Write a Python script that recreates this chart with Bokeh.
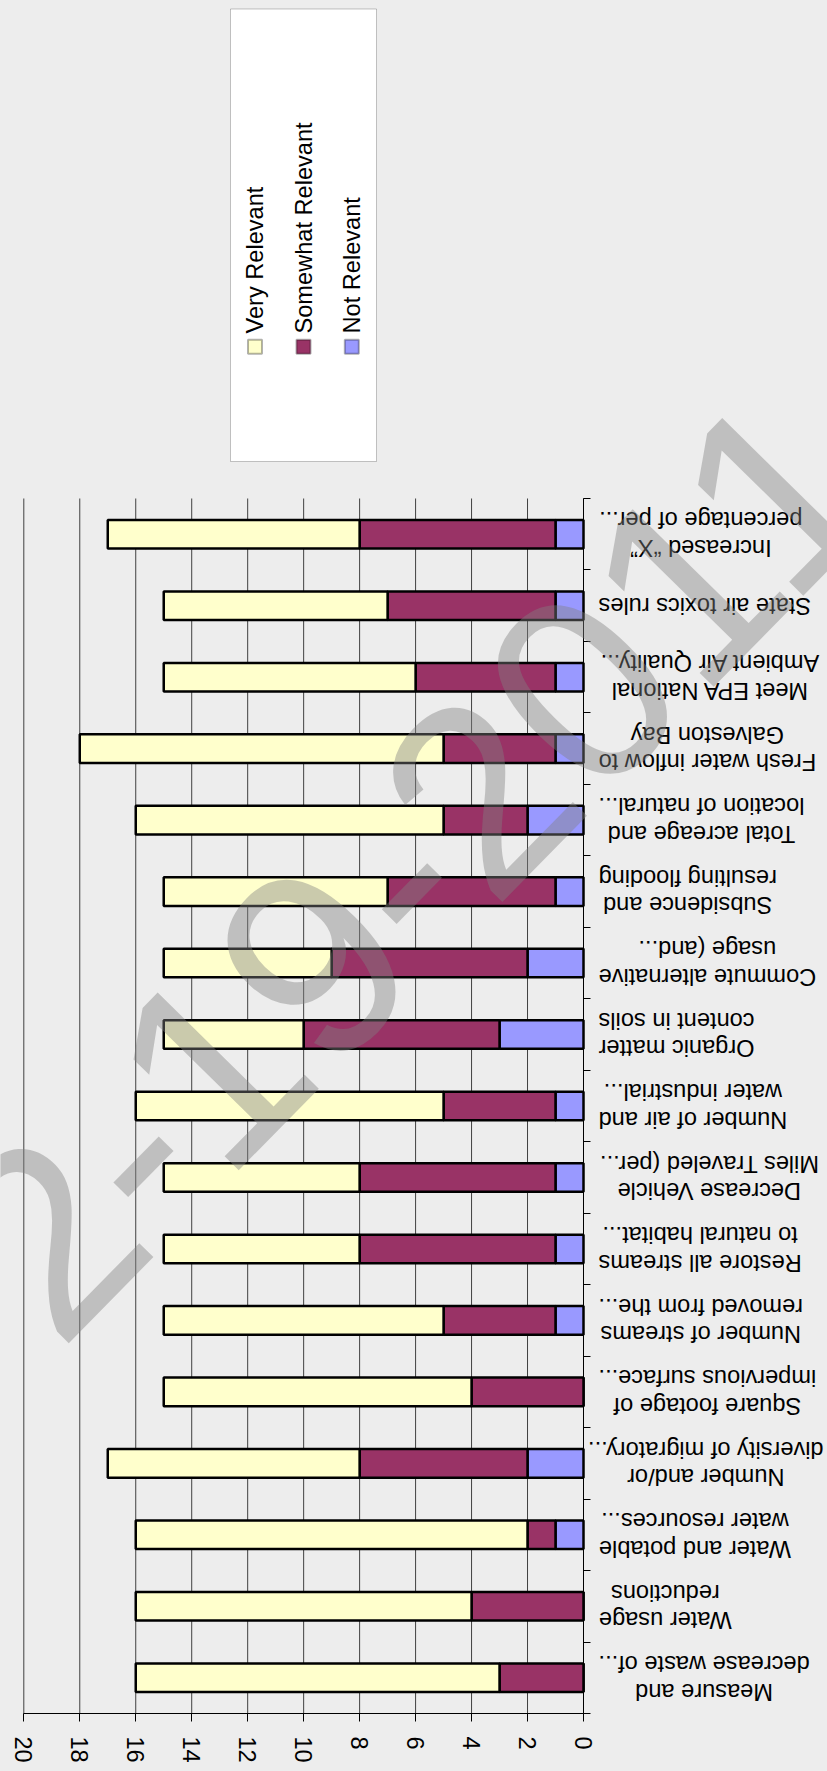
import math
from bokeh.plotting import figure
from bokeh.models import (Range1d, FixedTicker, ColumnDataSource, LinearAxis,
                          Label, BoxAnnotation)
from bokeh.core.properties import value
from bokeh.embed import file_html
from bokeh.resources import INLINE

# ---------------- data ----------------
categories = [
    "Measure and\ndecrease waste of...",
    "Water usage\nreductions",
    "Water and potable\nwater resources...",
    "Number and/or\ndiversity of migratory...",
    "Square footage of\nimpervious surface...",
    "Number of streams\nremoved from the...",
    "Restore all streams\nto natural habitat...",
    "Decrease Vehicle\nMiles Traveled (per...",
    "Number of air and\nwater industrial...",
    "Organic matter\ncontent in soils",
    "Commute alternative\nusage (and...",
    "Subsidence and\nresulting flooding",
    "Total acreage and\nlocation of natural...",
    "Fresh water inflow to\nGalveston Bay",
    "Meet EPA National\nAmbient Air Quality...",
    "State air toxics rules",
    "Increased \u201cX\u201d\npercentage of per...",
]
very_relevant = [13, 12, 14, 9, 11, 10, 7, 7, 11, 5, 6, 8, 11, 13, 9, 8, 9]
somewhat_relevant = [3, 4, 1, 6, 4, 4, 7, 7, 4, 7, 7, 6, 3, 4, 5, 6, 7]
not_relevant = [0, 0, 1, 2, 0, 1, 1, 1, 1, 3, 2, 1, 2, 1, 1, 1, 1]
series_names = ["Very Relevant", "Somewhat Relevant", "Not Relevant"]
value_ticks = list(range(0, 21, 2))
watermark_text = "2-19-2011"

# ---------------- styles / layout ----------------
BG = "#EDEDED"
FONT = "Liberation Sans"
FS = 23.6
series_colors = ["#FFFFCC", "#993366", "#9999FF"]

# Arial / Liberation Sans advance widths (per 1000 em) for label layout
ADV = {' ': 278, '!': 278, '"': 355, '(': 333, ')': 333, '.': 278, '/': 278,
       '\u201c': 333, '\u201d': 333,
       'A': 667, 'B': 667, 'C': 722, 'D': 722, 'E': 667, 'F': 611, 'G': 778,
       'I': 278, 'M': 833, 'N': 722, 'O': 778, 'P': 667, 'Q': 778, 'R': 722,
       'S': 667, 'T': 611, 'V': 667, 'W': 944, 'X': 667,
       'a': 556, 'b': 556, 'c': 500, 'd': 556, 'e': 556, 'f': 278, 'g': 556,
       'h': 556, 'i': 222, 'j': 222, 'k': 500, 'l': 222, 'm': 833, 'n': 556,
       'o': 556, 'p': 556, 'q': 556, 'r': 333, 's': 500, 't': 278, 'u': 556,
       'v': 500, 'w': 722, 'x': 500, 'y': 500, 'z': 500}


def text_width(s):
    return sum(ADV.get(c, 556) for c in s) / 1000.0 * FS


W_FIG, H_FIG = 827, 1771
PLOT_L, PLOT_R = 23.3, 583.0              # plot area on the page
PLOT_T, PLOT_B = 498.0, 1713.0
n = len(categories)
X_MAX = value_ticks[-1]
PX_PER_VAL = (PLOT_R - PLOT_L) / X_MAX
PX_PER_CAT = (PLOT_B - PLOT_T) / n

# ranges chosen so the frame covers the whole canvas
x_range = Range1d(PLOT_R / PX_PER_VAL, (PLOT_R - W_FIG) / PX_PER_VAL)
y_range = Range1d(-(H_FIG - PLOT_B) / PX_PER_CAT, PLOT_B / PX_PER_CAT)


def fx(px):   # page x -> frame screen units
    return px


def fy(py):   # page y -> frame screen units (from bottom)
    return H_FIG - py


p = figure(width=W_FIG, height=H_FIG, x_range=x_range, y_range=y_range,
           x_axis_location=None, y_axis_location=None,
           output_backend="svg", toolbar_location=None, min_border=0,
           background_fill_color=BG, border_fill_color=BG,
           outline_line_color=None)
p.grid.visible = False

# vertical gridlines over the plot area
p.segment(x0=value_ticks, y0=[0] * len(value_ticks),
          x1=value_ticks, y1=[n] * len(value_ticks),
          line_color="#404040", line_width=1)

src = ColumnDataSource(dict(
    y=[i + 0.5 for i in range(n)],
    not_rel=not_relevant,
    somewhat=somewhat_relevant,
    very=very_relevant,
))
p.hbar_stack(["not_rel", "somewhat", "very"], y="y", height=0.4,
             fill_color=[series_colors[2], series_colors[1], series_colors[0]],
             line_color="black", line_width=2.5, source=src)

# value axis (bottom of plot area)
xa = LinearAxis(fixed_location=0, bounds=(0, X_MAX),
                ticker=FixedTicker(ticks=value_ticks))
xa.major_label_orientation = "vertical"
xa.major_tick_out = 8
xa.major_tick_in = 0
xa.minor_tick_out = 0
xa.minor_tick_in = 0
xa.axis_line_color = "black"
xa.major_tick_line_color = "black"
xa.major_label_text_font = FONT
xa.major_label_text_font_size = f"{FS}px"
xa.major_label_text_color = "black"
xa.major_label_standoff = 15
p.add_layout(xa, "below")

# category axis (right side of plot area) - ticks between categories
ya = LinearAxis(fixed_location=0, bounds=(0, n),
                ticker=FixedTicker(ticks=list(range(0, n + 1))))
ya.major_tick_out = 7
ya.major_tick_in = 0
ya.minor_tick_out = 0
ya.minor_tick_in = 0
ya.axis_line_color = "black"
ya.major_tick_line_color = "black"
ya.major_label_text_color = None
p.add_layout(ya, "right")

# category labels (upside-down, lines centred within each block,
# blocks kept inside the canvas)
LINE_H = 27.5
LABEL_LEFT = 598.0
RIGHT_LIMIT = W_FIG - 3
lab_y, lab_xo, lab_t = [], [], []
for i, cat in enumerate(categories):
    lines = cat.split("\n")
    wmax = max(text_width(s) for s in lines)
    left = min(LABEL_LEFT, RIGHT_LIMIT - wmax)
    k = len(lines)
    for j, s in enumerate(lines):
        off_px = ((k - 1) / 2.0 - j) * LINE_H   # first line ends up lowest
        lab_y.append(i + 0.5 - off_px / PX_PER_CAT)
        lab_xo.append(left - PLOT_R + wmax / 2.0)
        lab_t.append(s)
lab_src = ColumnDataSource(dict(x=[0] * len(lab_t), y=lab_y, xo=lab_xo,
                                t=lab_t))
p.text(x="x", y="y", text="t", x_offset="xo", source=lab_src,
       angle=math.pi, text_align="center", text_baseline="middle",
       text_font=value(FONT), text_font_size=f"{FS}px", text_color="black")

# legend (rotated, drawn by hand)
p.add_layout(BoxAnnotation(left=fx(230), right=fx(376), top=fy(8.5),
                           bottom=fy(461),
                           left_units="screen", right_units="screen",
                           top_units="screen", bottom_units="screen",
                           fill_color="white", fill_alpha=1.0,
                           line_color="#404040", line_width=1))
leg_cx = [254.5, 303.0, 351.3]
for name, col, cx in zip(series_names, series_colors, leg_cx):
    p.add_layout(BoxAnnotation(left=fx(cx - 7), right=fx(cx + 7),
                               top=fy(339.3), bottom=fy(353.3),
                               left_units="screen", right_units="screen",
                               top_units="screen", bottom_units="screen",
                               fill_color=col, fill_alpha=1.0,
                               line_color="black", line_width=2))
    p.add_layout(Label(x=fx(cx), y=fy(333), x_units="screen", y_units="screen",
                       text=name, angle=90, angle_units="deg",
                       text_align="left", text_baseline="middle",
                       text_font=FONT, text_font_size=f"{FS}px",
                       text_color="black"))

# watermark
p.add_layout(Label(x=fx(409), y=fy(863), x_units="screen", y_units="screen",
                   text=watermark_text, angle=45.5, angle_units="deg",
                   text_align="center", text_baseline="middle",
                   text_font=FONT, text_font_size="265px",
                   text_color="#808080", text_alpha=0.42))

html = file_html(p, INLINE)
html = html.replace("</head>",
                    "<style>html,body{background:%s;}</style></head>" % BG, 1)
with open("out.html", "w") as f:
    f.write(html)
